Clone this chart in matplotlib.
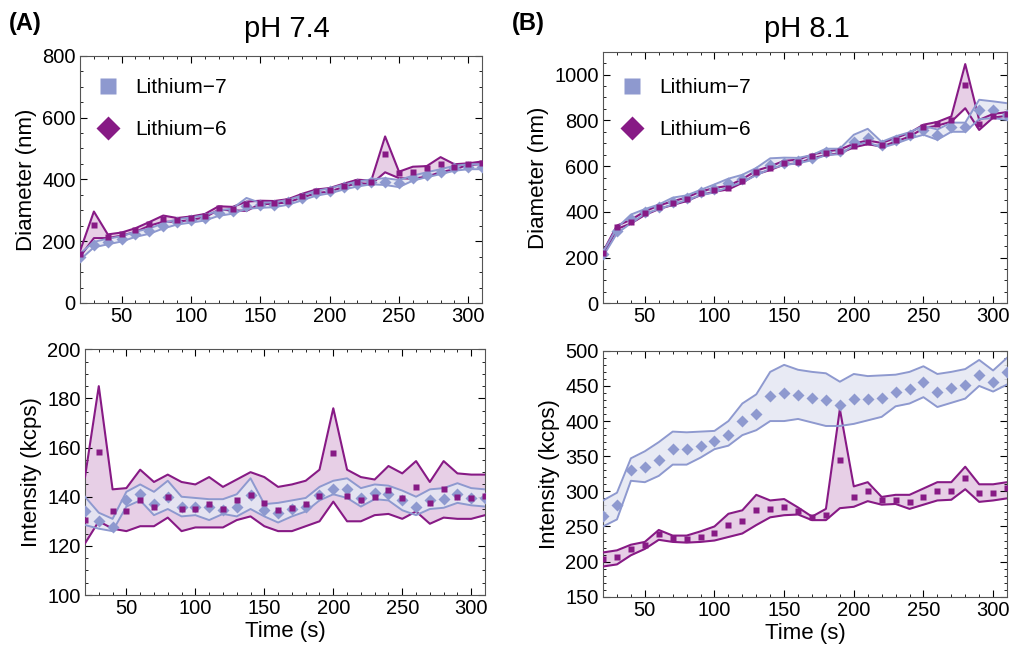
import matplotlib
matplotlib.use("Agg")
import matplotlib.pyplot as plt
from matplotlib.lines import Line2D
from matplotlib.ticker import MultipleLocator

plt.rcParams['font.family'] = ['Liberation Sans', 'DejaVu Sans']

# time points (s)
t = [20, 30, 40, 50, 60, 70, 80, 90, 100, 110, 120, 130, 140, 150, 160,
     170, 180, 190, 200, 210, 220, 230, 240, 250, 260, 270, 280, 290, 300, 310]

# --- pH 7.4, diameter (nm) ---
d74_li6 = [160, 253, 215, 223, 236, 256, 271, 269, 274, 282, 307, 305, 320, 325, 325,
           331, 347, 361, 366, 380, 393, 390, 481, 420, 423, 436, 449, 439, 449, 452]
d74_li6_hi = [168, 296, 222, 228, 242, 262, 283, 275, 280, 288, 313, 311, 328, 331, 330,
              336, 353, 367, 372, 386, 399, 396, 539, 425, 441, 443, 472, 449, 452, 458]
d74_li6_lo = [150, 210, 210, 218, 230, 250, 263, 263, 269, 277, 302, 300, 298, 320, 321,
              326, 341, 355, 361, 375, 388, 385, 423, 404, 402, 409, 423, 433, 446, 450]
d74_li7 = [150, 188, 198, 207, 222, 232, 249, 262, 268, 275, 290, 297, 315, 316, 318,
           326, 340, 355, 363, 375, 385, 392, 390, 388, 404, 415, 425, 436, 441, 441]
d74_li7_hi = [160, 198, 208, 216, 231, 241, 258, 271, 277, 284, 299, 306, 340, 324, 326,
              334, 348, 363, 371, 383, 393, 400, 404, 398, 412, 423, 433, 444, 449, 449]
d74_li7_lo = [140, 180, 190, 199, 214, 224, 241, 254, 260, 267, 282, 289, 305, 308, 310,
              318, 332, 347, 355, 367, 377, 384, 382, 375, 396, 407, 417, 428, 433, 433]

# --- pH 8.1, diameter (nm) ---
d81_li6 = [219, 333, 357, 394, 420, 438, 455, 481, 496, 506, 535, 572, 591, 615, 620,
           642, 656, 664, 690, 704, 693, 715, 737, 773, 785, 802, 955, 785, 820, 828]
d81_li6_hi = [226, 340, 365, 402, 428, 446, 463, 489, 504, 514, 543, 580, 599, 623, 628,
              650, 664, 672, 698, 712, 701, 723, 745, 781, 793, 817, 1046, 802, 828, 836]
d81_li6_lo = [211, 325, 349, 386, 412, 430, 447, 473, 488, 498, 527, 564, 583, 607, 612,
              634, 648, 656, 682, 696, 685, 707, 729, 765, 777, 794, 853, 758, 812, 820]
d81_li7 = [215, 318, 368, 400, 422, 444, 462, 485, 500, 525, 545, 575, 604, 612, 622,
           636, 662, 664, 704, 722, 692, 713, 737, 758, 737, 773, 773, 846, 846, 825]
d81_li7_hi = [225, 330, 388, 412, 432, 462, 472, 496, 520, 545, 562, 592, 634, 637, 636,
              648, 676, 676, 737, 763, 706, 730, 748, 776, 760, 790, 790, 890, 883, 875]
d81_li7_lo = [205, 306, 350, 392, 412, 432, 452, 472, 485, 508, 530, 560, 588, 605, 612,
              626, 648, 652, 690, 705, 680, 698, 720, 737, 715, 750, 750, 805, 810, 802]

# --- pH 7.4, intensity (kcps) ---
i74_li6 = [130.5, 158, 134, 134, 138.7, 136, 140, 135, 135, 137, 135, 138.7, 140.7, 137.6, 134.6,
           135.3, 137, 140.3, 157.7, 140.3, 138.7, 139.8, 142.7, 139.6, 144, 137.3, 143, 140, 139.6, 140.4]
i74_li6_hi = [148, 185, 143, 143.5, 151, 146, 149, 146, 145, 148, 144, 147, 150, 148, 144,
              145, 146.5, 151, 176, 151, 148, 147, 152.5, 149.5, 154.5, 146, 154.5, 149.5, 149, 149]
i74_li6_lo = [121, 130, 127, 126, 128, 128, 131.5, 126, 127.5, 127.5, 127.5, 130.5, 132, 128, 126,
              126, 128, 130, 138, 130, 130, 132.5, 133, 131, 134, 129, 131.5, 131, 131, 132.5]
i74_li7 = [134, 130, 127.5, 138.5, 141, 137, 140, 136, 136, 136, 134.5, 136, 140.5, 134.5, 133.5,
           135, 136, 140.5, 143, 143, 139.5, 141.5, 141, 138.5, 136, 138.5, 139, 141, 139.5, 139.5]
i74_li7_hi = [140, 133.5, 131, 142, 145, 142, 146.5, 140, 139.5, 139, 139, 141, 147.5, 137, 137.5,
              138.5, 139.5, 144, 146.5, 147.5, 143.5, 145, 144.5, 142.5, 140, 143, 143.5, 145.5, 143.5, 143]
i74_li7_lo = [128.5, 127, 126, 136, 138.5, 132.5, 135, 132, 132.5, 130.5, 133, 132, 135, 132, 129.5,
              132, 134, 138.5, 141, 139.5, 136, 139, 138.5, 134.5, 132.5, 135, 135.5, 137.5, 136.5, 136]

# --- pH 8.1, intensity (kcps) ---
i81_li6 = [204, 206, 218, 224, 239, 233, 232, 235, 240, 252, 258, 274, 275, 278, 272,
           263, 267, 345, 292, 300, 287, 288, 285, 292, 300, 300, 319, 297, 298, 305]
i81_li6_hi = [213, 216, 224, 228, 245, 237, 237, 243, 250, 268, 273, 295, 287, 289, 277,
              264, 275, 417, 307, 313, 292, 295, 295, 304, 313, 313, 335, 310, 310, 313]
i81_li6_lo = [193, 196, 209, 218, 231, 228, 227, 228, 230, 235, 240, 252, 263, 266, 267,
              259, 259, 276, 278, 286, 281, 282, 275, 281, 287, 288, 303, 285, 287, 290]
i81_li7 = [265, 280, 330, 335, 345, 360, 360, 365, 372, 380, 400, 410, 435, 440, 437,
           433, 430, 423, 431, 431, 433, 442, 446, 455, 442, 447, 452, 466, 455, 470]
i81_li7_hi = [287, 298, 347, 357, 370, 385, 384, 385, 386, 400, 425, 438, 470, 480, 473,
              470, 468, 456, 467, 464, 465, 466, 470, 478, 467, 470, 474, 487, 472, 490]
i81_li7_lo = [250, 260, 315, 313, 322, 338, 338, 348, 360, 365, 380, 387, 400, 400, 403,
              398, 393, 393, 396, 401, 406, 421, 425, 434, 420, 426, 432, 450, 442, 452]

c6 = '#871a85'
c6_fill = '#e7cfe6'
c7 = '#8e99cf'
c7_fill = '#e4e7f3'


def panel(ax, li6, li6_lo, li6_hi, li7, li7_lo, li7_hi):
    ax.fill_between(t, li6_lo, li6_hi, color=c6_fill, lw=0, zorder=1)
    ax.fill_between(t, li7_lo, li7_hi, color=c7_fill, alpha=0.85, lw=0, zorder=2)
    ax.plot(t, li6_hi, color=c6, lw=1.5, zorder=3)
    ax.plot(t, li6_lo, color=c6, lw=1.5, zorder=3)
    ax.plot(t, li7_hi, color=c7, lw=1.4, zorder=4)
    ax.plot(t, li7_lo, color=c7, lw=1.4, zorder=4)
    ax.plot(t, li7, ls='none', marker='D', ms=6, color=c7, mec='none', zorder=5)
    ax.plot(t, li6, ls='none', marker='s', ms=5, color=c6, mec='none', zorder=6)
    ax.set_xlim(20, 310)
    ax.xaxis.set_major_locator(MultipleLocator(50))
    ax.xaxis.set_minor_locator(MultipleLocator(10))
    ax.tick_params(which='both', direction='in', top=True, right=True, labelsize=14.5, pad=3)
    ax.tick_params(which='major', length=5)
    ax.tick_params(which='minor', length=2.5)
    for s in ax.spines.values():
        s.set_color('#555555')


fig = plt.figure(figsize=(10.13, 6.54), dpi=100)
axA = fig.add_axes([0.079, 0.5367, 0.397, 0.378])
axB = fig.add_axes([0.5953, 0.5362, 0.3988, 0.3847])
axC = fig.add_axes([0.0839, 0.0902, 0.3949, 0.3757])
axD = fig.add_axes([0.5953, 0.0876, 0.3988, 0.376])

panel(axA, d74_li6, d74_li6_lo, d74_li6_hi, d74_li7, d74_li7_lo, d74_li7_hi)
axA.set_ylim(0, 800)
axA.yaxis.set_major_locator(MultipleLocator(200))
axA.yaxis.set_minor_locator(MultipleLocator(50))
axA.set_ylabel('Diameter (nm)', fontsize=16, labelpad=4)

panel(axB, d81_li6, d81_li6_lo, d81_li6_hi, d81_li7, d81_li7_lo, d81_li7_hi)
axB.set_ylim(0, 1100)
axB.yaxis.set_major_locator(MultipleLocator(200))
axB.yaxis.set_minor_locator(MultipleLocator(50))
axB.set_ylabel('Diameter (nm)', fontsize=16, labelpad=4)

panel(axC, i74_li6, i74_li6_lo, i74_li6_hi, i74_li7, i74_li7_lo, i74_li7_hi)
axC.set_ylim(100, 200)
axC.yaxis.set_major_locator(MultipleLocator(20))
axC.yaxis.set_minor_locator(MultipleLocator(5))
axC.set_ylabel('Intensity (kcps)', fontsize=16, labelpad=4)
axC.set_xlabel('Time (s)', fontsize=16, labelpad=2)

panel(axD, i81_li6, i81_li6_lo, i81_li6_hi, i81_li7, i81_li7_lo, i81_li7_hi)
axD.set_ylim(150, 500)
axD.yaxis.set_major_locator(MultipleLocator(50))
axD.yaxis.set_minor_locator(MultipleLocator(10))
axD.set_ylabel('Intensity (kcps)', fontsize=16, labelpad=4)
axD.set_xlabel('Time (s)', fontsize=16, labelpad=2)

handles = [Line2D([], [], ls='none', marker='s', ms=11, color=c7, mec='none'),
           Line2D([], [], ls='none', marker='D', ms=12, color=c6, mec='none')]
labels = ['Lithium\u22127', 'Lithium\u22126']
axA.legend(handles, labels, loc='upper left', frameon=False, fontsize=15,
           labelspacing=1.1, handlelength=1.6, handletextpad=0.5, borderpad=0,
           borderaxespad=0, bbox_to_anchor=(0.028, 0.91))
axB.legend(handles, labels, loc='upper left', frameon=False, fontsize=15,
           labelspacing=1.1, handlelength=1.6, handletextpad=0.5, borderpad=0,
           borderaxespad=0, bbox_to_anchor=(0.030, 0.895))

fig.text(0.283, 0.955, 'pH 7.4', fontsize=21, ha='center', va='center')
fig.text(0.797, 0.955, 'pH 8.1', fontsize=21, ha='center', va='center')
fig.text(0.009, 0.964, '(A)', fontsize=17, fontweight='bold', va='center')
fig.text(0.505, 0.964, '(B)', fontsize=17, fontweight='bold', va='center')

fig.savefig('out.png', dpi=100)
